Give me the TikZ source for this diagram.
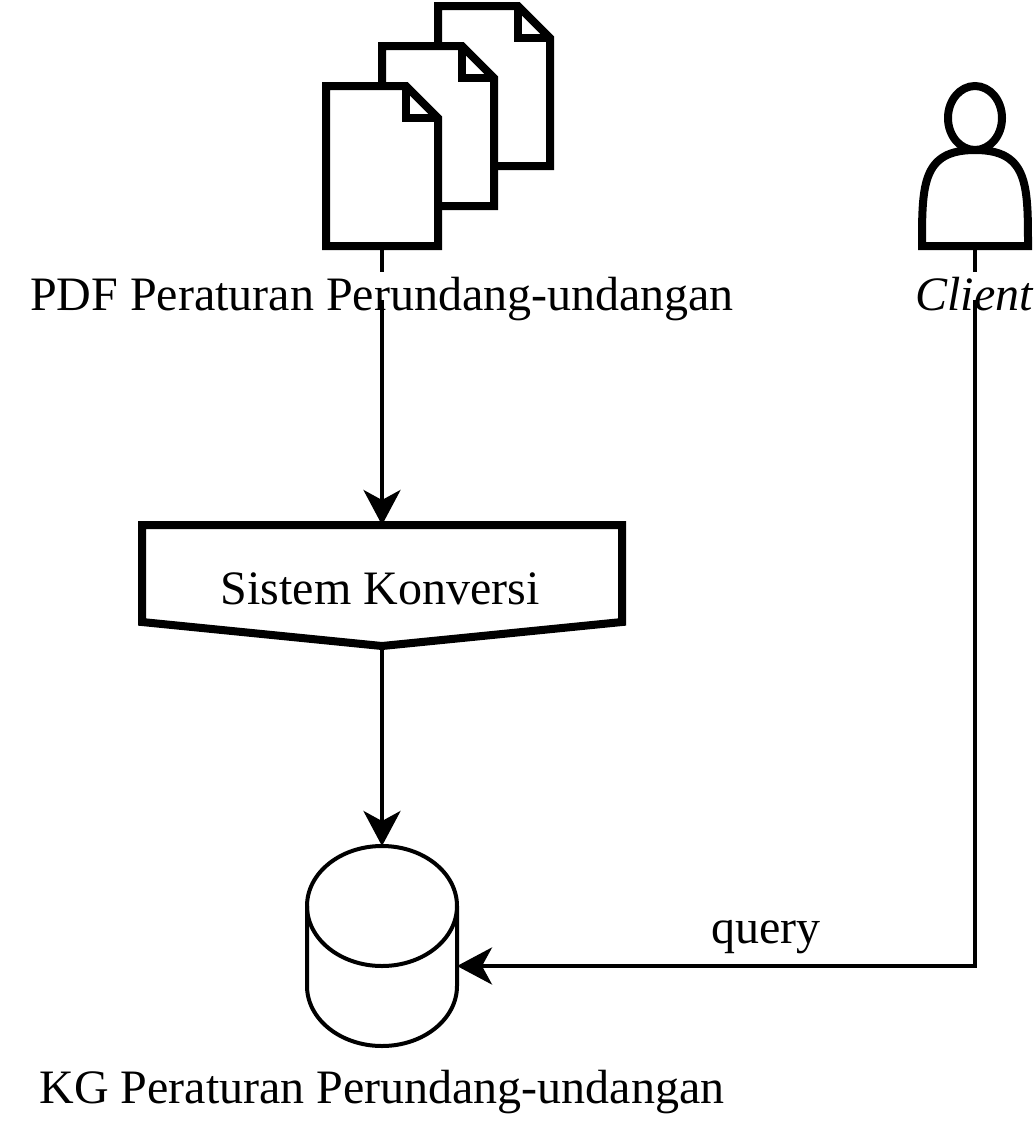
\documentclass[tikz,border=0pt]{standalone}
\usepackage{fontspec}
\setmainfont{Liberation Serif}
\usetikzlibrary{arrows.meta,positioning,calc}
\tikzset{
  outline/.style={draw=black,line width=8pt,miter limit=10},
  thinline/.style={draw=black,line width=4pt},
  shapebox/.style={inner sep=0pt,outer sep=0pt},
  flow/.style={thinline,-{Stealth[length=35pt,width=37pt,inset=10pt]}},
  txt/.style={font=\fontsize{48}{48}\selectfont,inner sep=0pt,outer sep=0pt,text height=18pt,text depth=10pt}
}
\begin{document}
\begin{tikzpicture}[x=1pt, y=-1pt]
  \useasboundingbox (0,0) rectangle (1036,1128);
  %% document stack
  \foreach \n/\x/\y in {back/438/6, middle/382/46, front/326/86} {
    \node[shapebox,minimum width=112pt,minimum height=160pt,anchor=north west] (\n doc) at (\x,\y) {};
    \draw[outline,fill=white] (\x,\y) -- ++(80,0) -- ++(32,32) -- ++(0,128) -- ++(-112,0) -- cycle;
    \draw[outline] (\x+80,\y) -- ++(0,32) -- ++(32,0);
  }
  %% client
  \node[shapebox,minimum width=106pt,minimum height=160pt,anchor=north] (clientfig) at (975,86) {};
  \draw[outline] (975,118) ellipse [x radius=27, y radius=32];
  \draw[outline,fill=white] (922,246) .. controls (922,185) and (922,150) .. (975,150)
      .. controls (1028,150) and (1028,185) .. (1028,246) -- cycle;
  %% conversion box
  \node[shapebox,minimum width=480pt,minimum height=121pt] (konversi) at (382,585.5) {};
  \draw[outline] (142,525) -- (622,525) -- (622,622) -- (382,646) -- (142,622) -- cycle;
  %% database
  \node[shapebox,minimum width=150pt,minimum height=200pt] (kgdb) at (382,946) {};
  \draw[thinline] (382,906) ellipse [x radius=75, y radius=60];
  \draw[thinline] (307,906) -- (307,986) arc [start angle=180, end angle=0, x radius=75, y radius=60] -- (457,906);
  %% connectors, broken where the labels sit
  \coordinate (pdfgaptop) at (382,272);
  \coordinate (pdfgapend) at (382,300);
  \coordinate (clientgaptop) at (975,272);
  \coordinate (clientgapend) at (975,300);
  \coordinate (kgport) at (457,966);
  \draw[thinline] (frontdoc.south) -- (pdfgaptop);
  \draw[flow] (pdfgapend) -- (konversi.north);
  \draw[flow] (konversi.south) -- (kgdb.north);
  \draw[thinline] (clientfig.south) -- (clientgaptop);
  \draw[flow] (clientgapend) |- (kgport);
  %% labels
  \node[txt] (pdflabel) at (382,306) {PDF Peraturan Perundang-undangan};
  \node[txt] (clientlabel) at (974,306) {\itshape Client};
  \node[txt] (konversilabel) at (380,600) {Sistem Konversi};
  \node[txt] (querylabel) at (766,939) {query};
  \node[txt] (kglabel) at (382,1099) {KG Peraturan Perundang-undangan};
\end{tikzpicture}
\end{document}
